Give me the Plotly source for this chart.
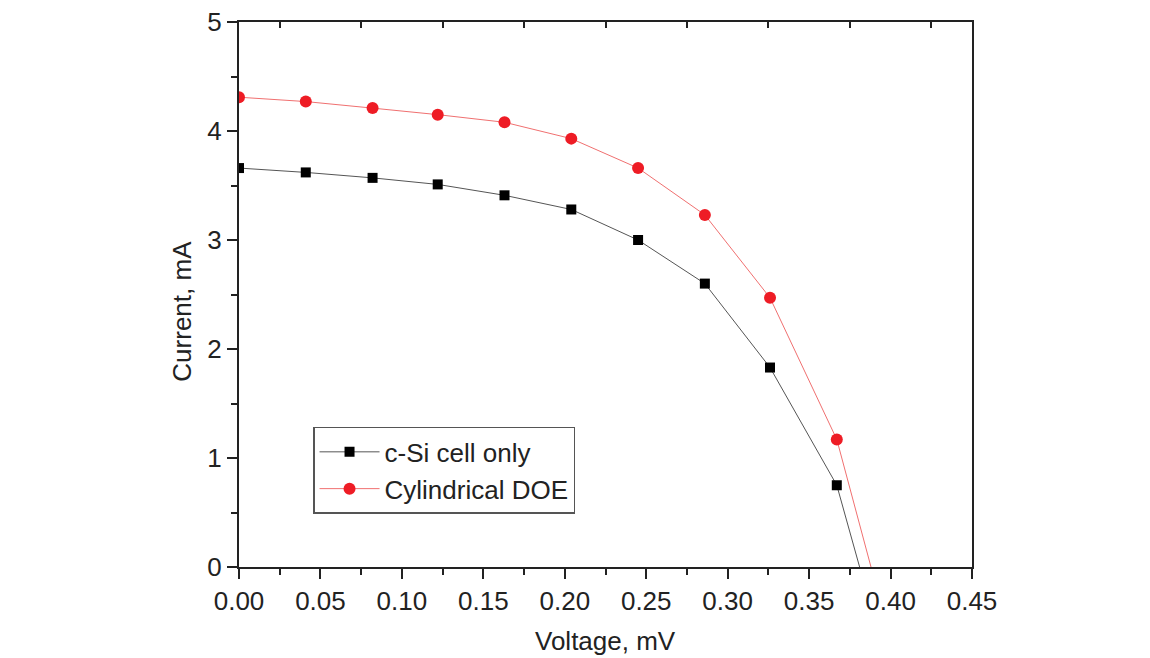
import plotly.graph_objects as go

voltage = [0.0, 0.041, 0.082, 0.122, 0.163, 0.204, 0.245, 0.286, 0.326, 0.367]
csi_current = [3.66, 3.62, 3.57, 3.51, 3.41, 3.28, 3.00, 2.60, 1.83, 0.75]
doe_current = [4.31, 4.27, 4.21, 4.15, 4.08, 3.93, 3.66, 3.23, 2.47, 1.17]
csi_voc = 0.381
doe_voc = 0.388

x_ticks = [0.0, 0.05, 0.10, 0.15, 0.20, 0.25, 0.30, 0.35, 0.40, 0.45]
x_ticktext = ["0.00", "0.05", "0.10", "0.15", "0.20", "0.25", "0.30", "0.35", "0.40", "0.45"]
y_ticks = [0, 1, 2, 3, 4, 5]
top_ticks = [0.025, 0.075, 0.125, 0.175, 0.225, 0.275, 0.325, 0.375, 0.425]
y_minor = [0.5, 1.5, 2.5, 3.5, 4.5]

FONT = "Liberation Sans, Arial, sans-serif"
BLACK_LINE = "#555555"
RED_LINE = "#f07070"
RED = "#ee1c25"
AX = "#222222"

fig = go.Figure()

# tail segments to zero current (no marker)
fig.add_trace(go.Scatter(x=[voltage[-1], csi_voc], y=[csi_current[-1], 0], mode="lines",
                         line=dict(color=BLACK_LINE, width=1), showlegend=False, hoverinfo="skip"))
fig.add_trace(go.Scatter(x=[voltage[-1], doe_voc], y=[doe_current[-1], 0], mode="lines",
                         line=dict(color=RED_LINE, width=1), showlegend=False, hoverinfo="skip"))

fig.add_trace(go.Scatter(x=voltage, y=csi_current, mode="lines+markers", name="c-Si cell only",
                         line=dict(color=BLACK_LINE, width=1),
                         marker=dict(symbol="square", size=10, color="black")))
fig.add_trace(go.Scatter(x=voltage, y=doe_current, mode="lines+markers", name="Cylindrical DOE",
                         line=dict(color=RED_LINE, width=1),
                         marker=dict(symbol="circle", size=12, color=RED)))

# top axis ticks (inside, no labels)
fig.add_trace(go.Scatter(x=[0, 0.45], y=[0, 0], xaxis="x2", mode="markers",
                         marker=dict(opacity=0), showlegend=False, hoverinfo="skip"))

fig.update_layout(
    width=1150, height=658,
    paper_bgcolor="white", plot_bgcolor="white",
    margin=dict(l=231, r=186, t=14, b=99, autoexpand=False),
    font=dict(family=FONT, size=26, color=AX),
    xaxis=dict(range=[0, 0.45], tickvals=x_ticks, ticktext=x_ticktext,
               ticks="outside", ticklen=10, tickwidth=1.5, tickcolor=AX,
               minor=dict(tickvals=top_ticks, ticks="outside", ticklen=6, tickwidth=1.5, tickcolor=AX),
               showline=True, linecolor=AX, linewidth=2, mirror=True,
               showgrid=False, zeroline=False, tickfont=dict(size=26),
               ticklabeloverflow="allow", automargin=False),
    xaxis2=dict(range=[0, 0.45], overlaying="x", side="top", tickvals=top_ticks,
                ticks="inside", ticklen=6, tickwidth=1.5, tickcolor=AX,
                showticklabels=False, showgrid=False, zeroline=False, showline=False,
                automargin=False),
    yaxis=dict(range=[0, 5], tickvals=y_ticks,
               ticks="outside", ticklen=10, tickwidth=1.5, tickcolor=AX,
               minor=dict(tickvals=y_minor, ticks="outside", ticklen=6, tickwidth=1.5, tickcolor=AX),
               showline=True, linecolor=AX, linewidth=2, mirror=True,
               showgrid=False, zeroline=False, tickfont=dict(size=26),
               ticklabeloverflow="allow", automargin=False),
    annotations=[
        dict(text="Voltage, mV", xref="paper", yref="paper", x=0.5, y=-0.135,
             xanchor="center", yanchor="middle", showarrow=False, font=dict(size=26)),
        dict(text="Current, mA", xref="paper", yref="paper", x=-0.078, y=0.47,
             xanchor="center", yanchor="middle", showarrow=False, textangle=-90, font=dict(size=26)),
    ],
    legend=dict(x=0.101, y=0.257, xanchor="left", yanchor="top",
                bgcolor="white", bordercolor="#555", borderwidth=1.5,
                font=dict(size=26), itemwidth=60, tracegroupgap=0),
    showlegend=True,
)

fig.write_html("out.html")
